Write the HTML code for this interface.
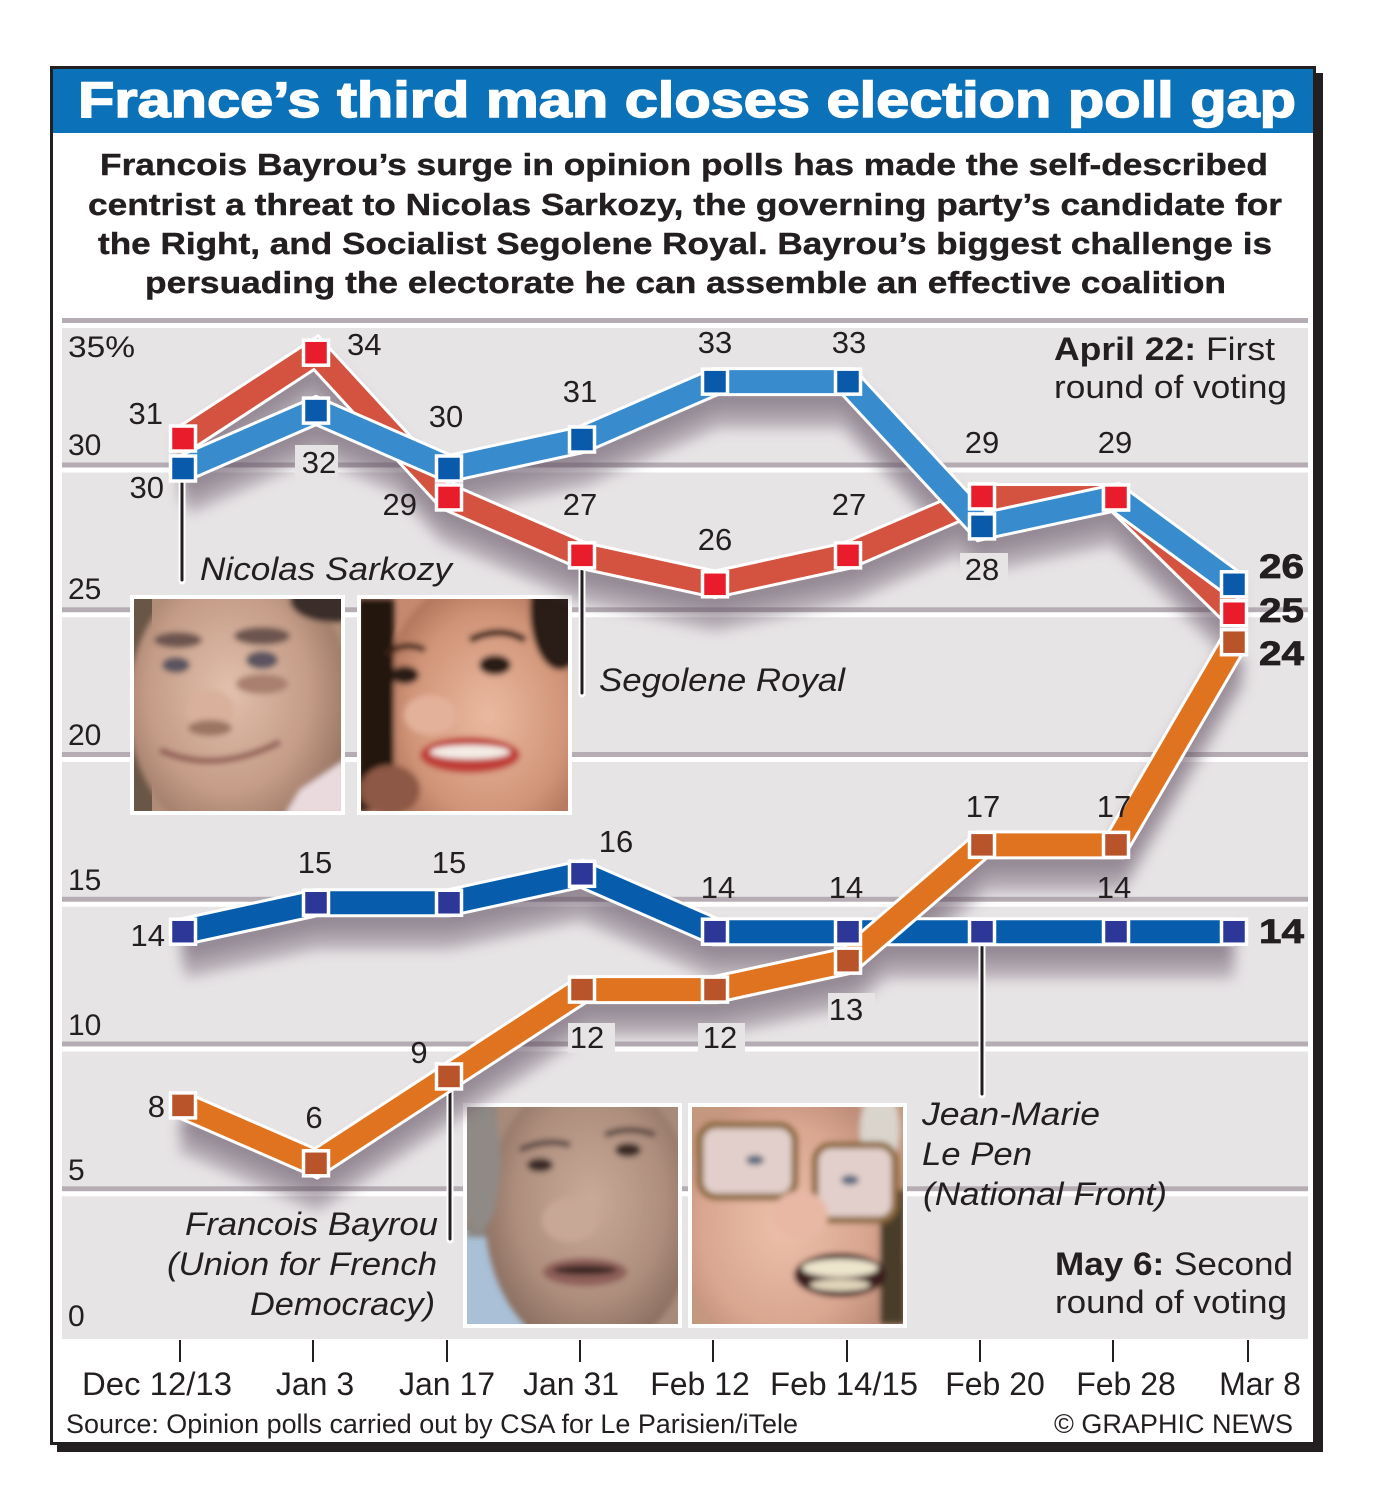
<!DOCTYPE html>
<html><head><meta charset="utf-8"><style>
html,body{margin:0;padding:0;background:#fff;}
svg{display:block;}
</style></head><body>
<svg width="1375" height="1508" viewBox="0 0 1375 1508" xmlns="http://www.w3.org/2000/svg" font-family="'Liberation Sans', Arial, sans-serif">
<defs>
  <filter id="blur" x="-10%" y="-20%" width="120%" height="160%"><feGaussianBlur stdDeviation="7"/></filter>
  <filter id="pblur" x="-10%" y="-10%" width="120%" height="120%"><feGaussianBlur stdDeviation="3"/></filter>
  <radialGradient id="sFace" cx="0.45" cy="0.45" r="0.6"><stop offset="0" stop-color="#e2c0ad"/><stop offset="0.6" stop-color="#c49c87"/><stop offset="1" stop-color="#8f6d5c"/></radialGradient>
  <radialGradient id="rFace" cx="0.5" cy="0.5" r="0.6"><stop offset="0" stop-color="#eab9a0"/><stop offset="0.6" stop-color="#d09478"/><stop offset="1" stop-color="#9a5e48"/></radialGradient>
  <radialGradient id="bFace" cx="0.5" cy="0.45" r="0.6"><stop offset="0" stop-color="#c9aa98"/><stop offset="0.6" stop-color="#ad8d7c"/><stop offset="1" stop-color="#7e6458"/></radialGradient>
  <radialGradient id="lFace" cx="0.45" cy="0.5" r="0.6"><stop offset="0" stop-color="#ecc0aa"/><stop offset="0.6" stop-color="#d9a690"/><stop offset="1" stop-color="#b0806c"/></radialGradient>
  <clipPath id="c1"><rect x="134" y="599" width="207" height="212"/></clipPath>
  <clipPath id="c2"><rect x="361" y="599" width="207" height="212"/></clipPath>
  <clipPath id="c3"><rect x="467" y="1107" width="211" height="217"/></clipPath>
  <clipPath id="c4"><rect x="692" y="1107" width="211" height="217"/></clipPath>
</defs>

<rect width="1375" height="1508" fill="#fff"/>
<!-- frame -->
<rect x="57" y="73" width="1266" height="1379" fill="#231f20"/>
<rect x="51.5" y="67.5" width="1263" height="1376" fill="#fff" stroke="#231f20" stroke-width="3"/>
<rect x="53" y="69" width="1260" height="64" fill="#0b72b9"/>
<text x="78" y="117" font-size="50" font-weight="bold" fill="#fff" stroke="#fff" stroke-width="1.5" textLength="1218" lengthAdjust="spacingAndGlyphs">France’s third man closes election poll gap</text>

<g font-size="31" font-weight="bold" fill="#231f20" stroke="#231f20" stroke-width="0.4">
  <text x="100" y="175" textLength="1168" lengthAdjust="spacingAndGlyphs">Francois Bayrou’s surge in opinion polls has made the self-described</text>
  <text x="88" y="215" textLength="1194" lengthAdjust="spacingAndGlyphs">centrist a threat to Nicolas Sarkozy, the governing party’s candidate for</text>
  <text x="98" y="254" textLength="1174" lengthAdjust="spacingAndGlyphs">the Right, and Socialist Segolene Royal. Bayrou’s biggest challenge is</text>
  <text x="145" y="293" textLength="1081" lengthAdjust="spacingAndGlyphs">persuading the electorate he can assemble an effective coalition</text>
</g>

<!-- chart background -->
<rect x="62" y="318" width="1246" height="1021" fill="#e7e4e6"/>
<g>
  <rect x="62" y="318" width="1246" height="5" fill="#b5adb3"/><rect x="62" y="323" width="1246" height="5" fill="#fff"/>
  <rect x="62" y="462.5" width="1246" height="5" fill="#b5adb3"/><rect x="62" y="467.5" width="1246" height="5" fill="#fff"/>
  <rect x="62" y="607.3" width="1246" height="5" fill="#b5adb3"/><rect x="62" y="612.3" width="1246" height="5" fill="#fff"/>
  <rect x="62" y="752" width="1246" height="5" fill="#b5adb3"/><rect x="62" y="757" width="1246" height="5" fill="#fff"/>
  <rect x="62" y="896.8" width="1246" height="5" fill="#b5adb3"/><rect x="62" y="901.8" width="1246" height="5" fill="#fff"/>
  <rect x="62" y="1041.5" width="1246" height="5" fill="#b5adb3"/><rect x="62" y="1046.5" width="1246" height="5" fill="#fff"/>
  <rect x="62" y="1186.3" width="1246" height="5" fill="#b5adb3"/><rect x="62" y="1191.3" width="1246" height="5" fill="#fff"/>
</g>

<!-- y labels -->
<g font-size="30" fill="#231f20">
  <text x="68" y="357" textLength="67" lengthAdjust="spacingAndGlyphs">35%</text>
  <text x="68" y="455">30</text>
  <text x="68" y="599">25</text>
  <text x="68" y="745">20</text>
  <text x="68" y="890">15</text>
  <text x="68" y="1035">10</text>
  <text x="68" y="1180">5</text>
  <text x="68" y="1326">0</text>
</g>

<!-- photos -->
<g>
  <rect x="130" y="595" width="215" height="220" fill="#fff"/>
  <g clip-path="url(#c1)">
    <rect x="134" y="599" width="207" height="212" fill="#b08d78"/>
    <rect x="134" y="599" width="18" height="212" fill="#6a5646"/>
    <g filter="url(#pblur)">
      <ellipse cx="240" cy="705" rx="112" ry="140" fill="url(#sFace)"/>
      <ellipse cx="330" cy="600" rx="40" ry="22" fill="#3b2f2a"/>
      <ellipse cx="178" cy="640" rx="24" ry="8" fill="#6d5550"/>
      <ellipse cx="262" cy="636" rx="28" ry="9" fill="#6d5550"/>
      <ellipse cx="176" cy="665" rx="14" ry="8" fill="#5a5560"/>
      <ellipse cx="262" cy="660" rx="16" ry="9" fill="#5a5560"/>
      <ellipse cx="262" cy="684" rx="26" ry="10" fill="#a98070"/>
      <ellipse cx="210" cy="710" rx="24" ry="20" fill="#d8b09c"/>
      <ellipse cx="210" cy="728" rx="22" ry="8" fill="#9b7462"/>
      <path d="M160 750 Q215 775 280 742" stroke="#8e5a52" stroke-width="6" fill="none"/>
      <polygon points="300,790 345,760 345,815 285,815" fill="#eadade"/>
    </g>
  </g>
  <rect x="357" y="595" width="215" height="220" fill="#fff"/>
  <g clip-path="url(#c2)">
    <rect x="361" y="599" width="207" height="212" fill="#c48a70"/>
    <g filter="url(#pblur)">
      <ellipse cx="488" cy="715" rx="110" ry="140" fill="url(#rFace)"/>
      <rect x="358" y="599" width="36" height="212" fill="#22160f"/>
      <ellipse cx="560" cy="610" rx="30" ry="60" fill="#2a1a12"/>
      <path d="M385 655 Q405 640 425 650" stroke="#3a2218" stroke-width="6" fill="none"/>
      <path d="M470 640 Q500 625 525 640" stroke="#3a2218" stroke-width="7" fill="none"/>
      <ellipse cx="405" cy="675" rx="14" ry="9" fill="#2a1a14"/>
      <ellipse cx="495" cy="665" rx="16" ry="10" fill="#2a1a14"/>
      <ellipse cx="430" cy="715" rx="26" ry="20" fill="#e3b09a"/>
      <ellipse cx="470" cy="755" rx="50" ry="18" fill="#c03c38"/>
      <ellipse cx="470" cy="752" rx="40" ry="7" fill="#f4ece6"/>
      <ellipse cx="390" cy="790" rx="30" ry="25" fill="#8d5844"/>
    </g>
  </g>
  <rect x="463" y="1103" width="219" height="225" fill="#fff"/>
  <g clip-path="url(#c3)">
    <rect x="467" y="1107" width="211" height="217" fill="#a78a7a"/>
    <rect x="467" y="1230" width="60" height="94" fill="#a9c0d6"/>
    <g filter="url(#pblur)">
      <rect x="467" y="1107" width="30" height="130" fill="#8a8580"/>
      <ellipse cx="590" cy="1215" rx="105" ry="140" fill="url(#bFace)"/>
      <ellipse cx="480" cy="1160" rx="20" ry="70" fill="#8f8a86"/>
      <path d="M520 1150 Q545 1138 570 1145" stroke="#5c4a44" stroke-width="6" fill="none"/>
      <path d="M605 1135 Q630 1125 655 1135" stroke="#5c4a44" stroke-width="6" fill="none"/>
      <ellipse cx="540" cy="1165" rx="13" ry="7" fill="#3a2a26"/>
      <ellipse cx="628" cy="1150" rx="13" ry="7" fill="#3a2a26"/>
      <ellipse cx="570" cy="1220" rx="28" ry="22" fill="#c7a795"/>
      <ellipse cx="585" cy="1272" rx="42" ry="14" fill="#8e5e58"/>
      <ellipse cx="585" cy="1270" rx="32" ry="5" fill="#3a2624"/>
    </g>
  </g>
  <rect x="688" y="1103" width="219" height="225" fill="#fff"/>
  <g clip-path="url(#c4)">
    <rect x="692" y="1107" width="211" height="217" fill="#c4977f"/>
    <g filter="url(#pblur)">
      <ellipse cx="795" cy="1225" rx="115" ry="140" fill="url(#lFace)"/>
      <rect x="880" y="1190" width="25" height="134" fill="#4a3c2c"/>
      <ellipse cx="880" cy="1130" rx="20" ry="40" fill="#d9d4cc"/>
      <rect x="700" y="1125" width="95" height="72" rx="16" fill="#e2cfcb" stroke="#8d6a3e" stroke-width="7"/>
      <rect x="815" y="1145" width="80" height="75" rx="16" fill="#e2cfcb" stroke="#8d6a3e" stroke-width="7"/>
      <ellipse cx="755" cy="1160" rx="9" ry="5" fill="#5a6a80"/>
      <ellipse cx="850" cy="1180" rx="9" ry="5" fill="#5a6a80"/>
      <ellipse cx="800" cy="1215" rx="28" ry="24" fill="#e8b8a4"/>
      <ellipse cx="840" cy="1275" rx="46" ry="22" fill="#3a1c1a"/>
      <ellipse cx="840" cy="1268" rx="38" ry="9" fill="#ede4cc"/>
      <ellipse cx="840" cy="1285" rx="30" ry="6" fill="#e2d6bc"/>
    </g>
  </g>
</g>

<!-- shadows -->
<g filter="url(#blur)" opacity="0.6" fill="none" stroke="#5e4e5e" stroke-width="28" stroke-linejoin="round">
  <g transform="translate(0,14)">
    <polyline points="183,468.5 316,410.6 449,468.5 582,439.55 715,381.65 848,381.65 982,526.4 1116,497.45 1234,584.3"/>
    <polyline points="183,439.55 316,352.7 449,497.45 582,555.35 715,584.3 848,555.35 982,497.45 1116,497.45 1234,613.25"/>
    <polyline points="183,931.7 316,902.75 449,902.75 582,873.8 715,931.7 848,931.7 982,931.7 1116,931.7 1234,931.7"/>
    <polyline points="183,1105.4 316,1163.3 449,1076.45 582,989.6 715,989.6 848,960.65 982,844.85 1116,844.85 1234,642.2"/>
  </g>
  <g transform="translate(0,32)" opacity="0.65">
    <polyline points="183,468.5 316,410.6 449,468.5 582,439.55 715,381.65 848,381.65 982,526.4 1116,497.45 1234,584.3"/>
    <polyline points="183,439.55 316,352.7 449,497.45 582,555.35 715,584.3 848,555.35 982,497.45 1116,497.45 1234,613.25"/>
    <polyline points="183,931.7 316,902.75 449,902.75 582,873.8 715,931.7 848,931.7 982,931.7 1116,931.7 1234,931.7"/>
    <polyline points="183,1105.4 316,1163.3 449,1076.45 582,989.6 715,989.6 848,960.65 982,844.85 1116,844.85 1234,642.2"/>
  </g>
</g>

<!-- label boxes -->
<g fill="#e7e4e6">
  <rect x="295" y="445" width="43" height="32"/>
  <rect x="960" y="553" width="48" height="30"/>
  <rect x="568" y="1023" width="47" height="30"/>
  <rect x="698" y="1023" width="47" height="30"/>
  <rect x="828" y="993" width="47" height="34"/>
</g>

<!-- leader lines -->
<g stroke-linecap="round">
  <g stroke="#fff" stroke-width="7">
    <line x1="182" y1="482" x2="182" y2="581"/>
    <line x1="582" y1="568" x2="582" y2="694"/>
    <line x1="450" y1="1090" x2="450" y2="1240"/>
    <line x1="982" y1="946" x2="982" y2="1095"/>
  </g>
  <g stroke="#231f20" stroke-width="3">
    <line x1="182" y1="482" x2="182" y2="580"/>
    <line x1="582" y1="568" x2="582" y2="693"/>
    <line x1="450" y1="1090" x2="450" y2="1239"/>
    <line x1="982" y1="946" x2="982" y2="1094"/>
  </g>
</g>

<!-- series lines -->
<g fill="none" stroke-linejoin="miter" stroke-miterlimit="4">
  <polyline points="183,439.55 316,352.7 449,497.45 582,555.35 715,584.3 848,555.35 982,497.45 1116,497.45 1234,613.25" stroke="#fff" stroke-width="29"/>
  <polyline points="183,439.55 316,352.7 449,497.45 582,555.35 715,584.3 848,555.35 982,497.45 1116,497.45 1234,613.25" stroke="#d35340" stroke-width="23"/>
  <polyline points="183,468.5 316,410.6 449,468.5 582,439.55 715,381.65 848,381.65 982,526.4 1116,497.45 1234,584.3" stroke="#fff" stroke-width="29"/>
  <polyline points="183,468.5 316,410.6 449,468.5 582,439.55 715,381.65 848,381.65 982,526.4 1116,497.45 1234,584.3" stroke="#388bcc" stroke-width="23"/>
  <polyline points="183,931.7 316,902.75 449,902.75 582,873.8 715,931.7 848,931.7 982,931.7 1116,931.7 1234,931.7" stroke="#fff" stroke-width="29"/>
  <polyline points="183,931.7 316,902.75 449,902.75 582,873.8 715,931.7 848,931.7 982,931.7 1116,931.7 1234,931.7" stroke="#075dac" stroke-width="23"/>
  <polyline points="183,1105.4 316,1163.3 449,1076.45 582,989.6 715,989.6 848,960.65 982,844.85 1116,844.85 1234,642.2" stroke="#fff" stroke-width="29"/>
  <polyline points="183,1105.4 316,1163.3 449,1076.45 582,989.6 715,989.6 848,960.65 982,844.85 1116,844.85 1234,642.2" stroke="#e07320" stroke-width="23"/>
</g>

<!-- markers -->
<g stroke="#fff" stroke-width="3.5">
  <g fill="#b9532a">
    <rect x="170.5" y="1092.9" width="25" height="25"/>
    <rect x="303.5" y="1150.8" width="25" height="25"/>
    <rect x="436.5" y="1063.95" width="25" height="25"/>
    <rect x="569.5" y="977.1" width="25" height="25"/>
    <rect x="702.5" y="977.1" width="25" height="25"/>
    <rect x="835.5" y="948.15" width="25" height="25"/>
    <rect x="969.5" y="832.35" width="25" height="25"/>
    <rect x="1103.5" y="832.35" width="25" height="25"/>
    <rect x="1221.5" y="629.7" width="25" height="25"/>
  </g>
  <g fill="#2c3798">
    <rect x="170.5" y="919.2" width="25" height="25"/>
    <rect x="303.5" y="890.25" width="25" height="25"/>
    <rect x="436.5" y="890.25" width="25" height="25"/>
    <rect x="569.5" y="861.3" width="25" height="25"/>
    <rect x="702.5" y="919.2" width="25" height="25"/>
    <rect x="835.5" y="919.2" width="25" height="25"/>
    <rect x="969.5" y="919.2" width="25" height="25"/>
    <rect x="1103.5" y="919.2" width="25" height="25"/>
    <rect x="1221.5" y="919.2" width="25" height="25"/>
  </g>
  <g fill="#0a5aab">
    <rect x="170.5" y="456" width="25" height="25"/>
    <rect x="303.5" y="398.1" width="25" height="25"/>
    <rect x="436.5" y="456" width="25" height="25"/>
    <rect x="569.5" y="427.05" width="25" height="25"/>
    <rect x="702.5" y="369.15" width="25" height="25"/>
    <rect x="835.5" y="369.15" width="25" height="25"/>
    <rect x="969.5" y="513.9" width="25" height="25"/>
    <rect x="1103.5" y="484.95" width="25" height="25"/>
    <rect x="1221.5" y="571.8" width="25" height="25"/>
  </g>
  <g fill="#e81c2a">
    <rect x="170.5" y="426.05" width="25" height="25"/>
    <rect x="303.5" y="340.2" width="25" height="25"/>
    <rect x="436.5" y="484.95" width="25" height="25"/>
    <rect x="569.5" y="542.85" width="25" height="25"/>
    <rect x="702.5" y="571.8" width="25" height="25"/>
    <rect x="835.5" y="542.85" width="25" height="25"/>
    <rect x="969.5" y="483.95" width="25" height="25"/>
    <rect x="1103.5" y="484.95" width="25" height="25"/>
    <rect x="1221.5" y="600.75" width="25" height="25"/>
  </g>
</g>

<!-- data labels -->
<g font-size="31" fill="#231f20">
  <text x="164" y="498" text-anchor="end">30</text>
  <text x="319" y="473" text-anchor="middle">32</text>
  <text x="446" y="427" text-anchor="middle">30</text>
  <text x="580" y="402" text-anchor="middle">31</text>
  <text x="715" y="353" text-anchor="middle">33</text>
  <text x="849" y="353" text-anchor="middle">33</text>
  <text x="982" y="580" text-anchor="middle">28</text>

  <text x="163" y="424" text-anchor="end">31</text>
  <text x="347" y="355">34</text>
  <text x="417" y="515" text-anchor="end">29</text>
  <text x="580" y="515" text-anchor="middle">27</text>
  <text x="715" y="550" text-anchor="middle">26</text>
  <text x="849" y="515" text-anchor="middle">27</text>
  <text x="982" y="453" text-anchor="middle">29</text>
  <text x="1115" y="453" text-anchor="middle">29</text>

  <text x="165" y="946" text-anchor="end">14</text>
  <text x="315" y="873" text-anchor="middle">15</text>
  <text x="449" y="873" text-anchor="middle">15</text>
  <text x="616" y="852" text-anchor="middle">16</text>
  <text x="718" y="898" text-anchor="middle">14</text>
  <text x="846" y="898" text-anchor="middle">14</text>
  <text x="1114" y="898" text-anchor="middle">14</text>

  <text x="165" y="1117" text-anchor="end">8</text>
  <text x="314" y="1128" text-anchor="middle">6</text>
  <text x="419" y="1063" text-anchor="middle">9</text>
  <text x="587" y="1048" text-anchor="middle">12</text>
  <text x="720" y="1048" text-anchor="middle">12</text>
  <text x="846" y="1020" text-anchor="middle">13</text>
  <text x="983" y="817" text-anchor="middle">17</text>
  <text x="1114" y="817" text-anchor="middle">17</text>
</g>
<g font-size="34" font-weight="bold" fill="#231f20" stroke="#231f20" stroke-width="0.8">
  <text x="1259" y="578" textLength="45" lengthAdjust="spacingAndGlyphs">26</text>
  <text x="1259" y="622" textLength="45" lengthAdjust="spacingAndGlyphs">25</text>
  <text x="1259" y="665" textLength="45" lengthAdjust="spacingAndGlyphs">24</text>
  <text x="1259" y="943" textLength="45" lengthAdjust="spacingAndGlyphs">14</text>
</g>

<!-- name labels -->
<g font-size="32" font-style="italic" fill="#231f20">
  <text x="200" y="580" textLength="252" lengthAdjust="spacingAndGlyphs">Nicolas Sarkozy</text>
  <text x="599" y="691" textLength="246" lengthAdjust="spacingAndGlyphs">Segolene Royal</text>
  <text x="922" y="1125" textLength="178" lengthAdjust="spacingAndGlyphs">Jean-Marie</text>
  <text x="922" y="1165" textLength="110" lengthAdjust="spacingAndGlyphs">Le Pen</text>
  <text x="923" y="1205" textLength="244" lengthAdjust="spacingAndGlyphs">(National Front)</text>
  <text x="185" y="1235" textLength="253" lengthAdjust="spacingAndGlyphs">Francois Bayrou</text>
  <text x="167" y="1275" textLength="270" lengthAdjust="spacingAndGlyphs">(Union for French</text>
  <text x="250" y="1315" textLength="185" lengthAdjust="spacingAndGlyphs">Democracy)</text>
</g>

<!-- annotations -->
<g font-size="32" fill="#231f20">
  <text x="1054" y="360" textLength="221" lengthAdjust="spacingAndGlyphs"><tspan font-weight="bold">April 22:</tspan> First</text>
  <text x="1054" y="398" textLength="233" lengthAdjust="spacingAndGlyphs">round of voting</text>
  <text x="1055" y="1275" textLength="238" lengthAdjust="spacingAndGlyphs"><tspan font-weight="bold">May 6:</tspan> Second</text>
  <text x="1055" y="1313" textLength="232" lengthAdjust="spacingAndGlyphs">round of voting</text>
</g>

<!-- x ticks -->
<g stroke="#231f20" stroke-width="2">
  <line x1="180" y1="1340" x2="180" y2="1362"/>
  <line x1="313" y1="1340" x2="313" y2="1362"/>
  <line x1="447" y1="1340" x2="447" y2="1362"/>
  <line x1="580" y1="1340" x2="580" y2="1362"/>
  <line x1="713" y1="1340" x2="713" y2="1362"/>
  <line x1="847" y1="1340" x2="847" y2="1362"/>
  <line x1="980" y1="1340" x2="980" y2="1362"/>
  <line x1="1113" y1="1340" x2="1113" y2="1362"/>
  <line x1="1248" y1="1340" x2="1248" y2="1362"/>
</g>
<g font-size="32" fill="#231f20" text-anchor="middle">
  <text x="157" y="1395" textLength="150" lengthAdjust="spacingAndGlyphs">Dec 12/13</text>
  <text x="315" y="1395">Jan 3</text>
  <text x="447" y="1395">Jan 17</text>
  <text x="571" y="1395">Jan 31</text>
  <text x="700" y="1395">Feb 12</text>
  <text x="844" y="1395" textLength="148" lengthAdjust="spacingAndGlyphs">Feb 14/15</text>
  <text x="995" y="1395">Feb 20</text>
  <text x="1126" y="1395">Feb 28</text>
  <text x="1260" y="1395">Mar 8</text>
</g>
<g font-size="27" fill="#231f20">
  <text x="66" y="1433" textLength="732" lengthAdjust="spacingAndGlyphs">Source: Opinion polls carried out by CSA for Le Parisien/iTele</text>
  <text x="1054" y="1433" textLength="239" lengthAdjust="spacingAndGlyphs">© GRAPHIC NEWS</text>
</g>
</svg>
</body></html>
